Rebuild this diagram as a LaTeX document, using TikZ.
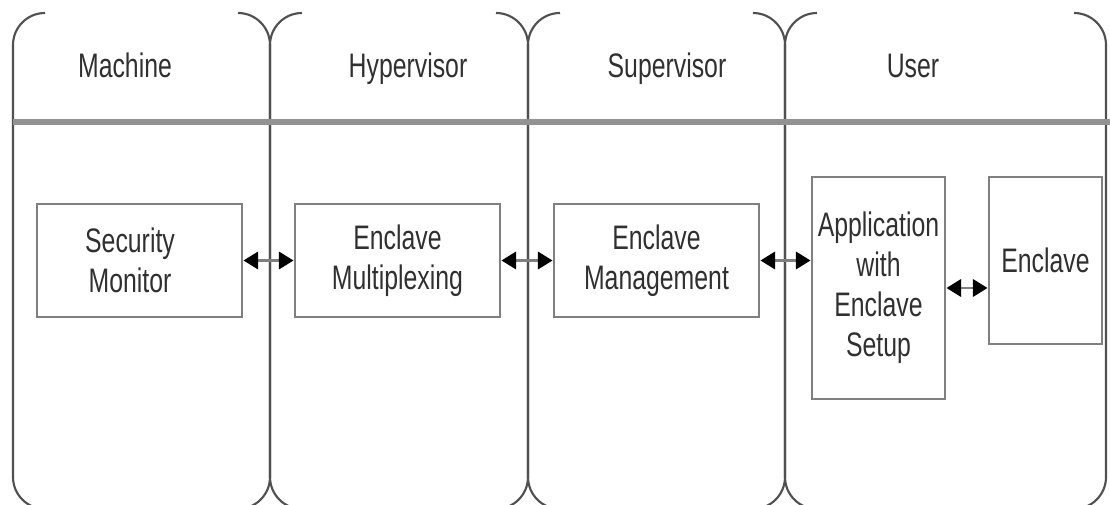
\documentclass[tikz,border=0pt]{standalone}
\usepackage{fontspec}
\setmainfont[FakeStretch=0.73]{Liberation Sans}
\usetikzlibrary{arrows.meta}
\definecolor{laneline}{HTML}{505050}
\definecolor{headline}{HTML}{929292}
\definecolor{boxline}{HTML}{808080}
\definecolor{inkgray}{HTML}{303030}
\tikzset{
  lane/.style={draw=laneline, line width=1.6pt, rounded corners=24pt},
  headrule/.style={draw=headline, line width=4.5pt},
  stage/.style={draw=boxline, line width=2.2pt, fill=white, inner sep=0pt},
  caption/.style={text=inkgray, align=center, font=\fontsize{25.5pt}{30pt}\selectfont},
  link/.style={draw=boxline, line width=2pt, {Triangle[length=11pt,width=13pt,color=black]}-{Triangle[length=11pt,width=13pt,color=black]}}
}
\begin{document}
\begin{tikzpicture}[x=0.75pt,y=-0.75pt]
\useasboundingbox (0,0) rectangle (1110,505);
\clip (0,0) rectangle (1110,505);

% swim lane borders: only the side edges and their rounded corners
\foreach \xl/\xr in {13/270, 270/528, 528/785, 785/1106}{
  \draw[lane] (\xl+32,13) -- (\xl,13) -- (\xl,509) -- (\xl+32,509);
  \draw[lane] (\xr-32,13) -- (\xr,13) -- (\xr,509) -- (\xr-32,509);
}

% header separator
\coordinate (hl) at (13,122.5);
\coordinate (hr) at (1110,122.5);
\draw[headrule] (hl) -- (hr);

% lane titles
\node[caption, anchor=base] (tmachine) at (125,78) {Machine};
\node[caption, anchor=base] (thyper) at (408,78) {Hypervisor};
\node[caption, anchor=base] (tsuper) at (667,78) {Supervisor};
\node[caption, anchor=base] (tuser) at (913,78) {User};

% components
\node[stage, minimum width={205*0.75pt}, minimum height={113*0.75pt}] (sm) at (139.5,260.5) {};
\node[caption] (smtext) at (130,260.5) {Security\\Monitor};
\node[stage, caption, minimum width={205*0.75pt}, minimum height={113*0.75pt}] (mux) at (397.5,260.5) {Enclave\\Multiplexing};
\node[stage, caption, minimum width={205*0.75pt}, minimum height={113*0.75pt}] (mgmt) at (656.5,260.5) {Enclave\\Management};
\node[stage, caption, minimum width={133*0.75pt}, minimum height={222*0.75pt}] (app) at (878.5,288) {Application\\with\\Enclave\\Setup};
\node[stage, caption, minimum width={113*0.75pt}, minimum height={167*0.75pt}] (encl) at (1045.5,260.5) {Enclave};

% interactions
\draw[link] (sm.east) -- (mux.west);
\draw[link] (mux.east) -- (mgmt.west);
\draw[link] (mgmt.east) -- (mgmt.east -| app.west);
\draw[link] (app.east) -- (app.east -| encl.west);
\end{tikzpicture}
\end{document}
